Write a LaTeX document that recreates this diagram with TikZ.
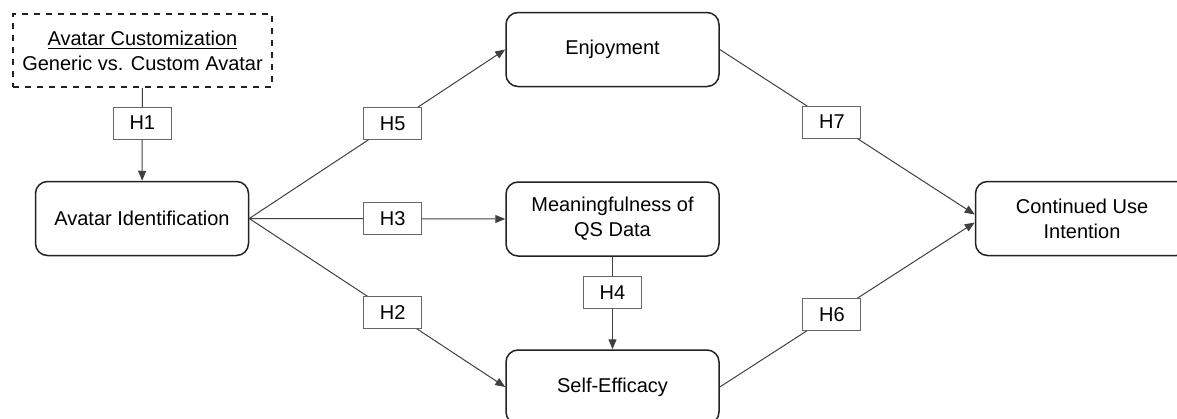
\documentclass[tikz,border=0pt]{standalone}
\usepackage{fontspec}
\setmainfont{Liberation Sans}
\usepackage{tikz}
\usetikzlibrary{arrows.meta}
\definecolor{edge}{RGB}{64, 64, 64}
\definecolor{frame}{RGB}{34, 34, 34}

\begin{document}
\begin{tikzpicture}[x=0.5pt, y=-0.5pt, font=\fontsize{10}{12.5}\selectfont,
    construct/.style={draw=frame, line width=0.75pt, rounded corners=6pt, align=center,
      minimum width=106.5pt, minimum height=37pt, inner sep=2pt},
    hypo/.style={draw=edge!80, line width=0.5pt, fill=white, minimum width=29pt,
      minimum height=16pt, inner sep=1pt},
    path/.style={draw=edge, line width=0.5pt, -{Triangle[length=5pt, width=4pt]}}]
  \clip (0, 0) rectangle (1177, 418);
  \useasboundingbox (0, 0) rectangle (1177, 418);

  \node[construct, dashed, rounded corners=0pt, minimum width=129.5pt, minimum height=36.5pt]
    (custom) at (142.5, 50.5) {\underline{Avatar Customization}\\Generic vs. Custom Avatar};
  \node[construct] (ident) at (142, 218.5) {Avatar Identification};
  \node[construct] (enjoy) at (612.5, 49.5) {Enjoyment};
  \node[construct] (meaning) at (612.5, 219) {Meaningfulness of\\QS Data};
  \node[construct] (efficacy) at (612.5, 387) {Self-Efficacy};
  \node[construct] (intent) at (1082, 218.5) {Continued Use\\Intention};

  \draw[path] (custom) -- node[hypo, pos=0.38] {H1} (ident);
  \draw[path] (ident.east) -- node[hypo, pos=0.56] {H5} (enjoy.west);
  \draw[path] (ident.east) -- node[hypo, pos=0.56] {H3} (meaning.west);
  \draw[path] (ident.east) -- node[hypo, pos=0.56] {H2} (efficacy.west);
  \draw[path] (meaning) -- node[hypo, pos=0.39] {H4} (efficacy);
  \draw[path] (enjoy.east) -- node[hypo, pos=0.44] {H7} ([yshift=2pt]intent.west);
  \draw[path] (efficacy.east) -- node[hypo, pos=0.44] {H6} ([yshift=-2pt]intent.west);
\end{tikzpicture}
\end{document}
